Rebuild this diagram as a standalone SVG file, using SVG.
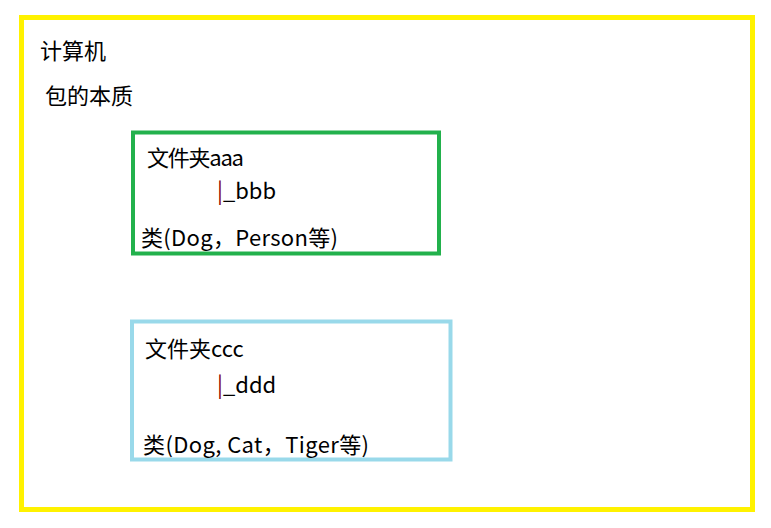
<svg xmlns="http://www.w3.org/2000/svg" width="771" height="528" viewBox="0 0 771 528">
<style>
text{font-family:"Noto Sans CJK SC","Microsoft YaHei",sans-serif;font-size:22px;fill:#000}
.bar{fill:#7f0000}
.box{fill:#fff}
</style>
<rect width="771" height="528" fill="#fff"/>
<g id="computer">
<rect x="21.5" y="17.5" width="731" height="492" fill="none" stroke="#fff200" stroke-width="5"/>
<text x="40" y="59">计算机</text>
<text x="45" y="104">包的本质</text>
</g>
<g id="folder-aaa">
<rect class="box" x="133" y="132.5" width="306" height="121" stroke="#22b14c" stroke-width="4"/>
<text x="147" y="166" textLength="97" lengthAdjust="spacing">文件夹aaa</text>
<text x="217" y="199"><tspan class="bar">|</tspan>_bbb</text>
<text x="141" y="246" textLength="197" lengthAdjust="spacing">类(Dog，Person等)</text>
</g>
<g id="folder-ccc">
<rect class="box" x="132" y="321.5" width="318.5" height="138" stroke="#99d9ea" stroke-width="4"/>
<text x="145" y="357">文件夹ccc</text>
<text x="217" y="393"><tspan class="bar">|</tspan>_ddd</text>
<text x="143" y="453" textLength="226" lengthAdjust="spacing">类(Dog, Cat，Tiger等)</text>
</g>
<g id="connectors"></g>
</svg>
